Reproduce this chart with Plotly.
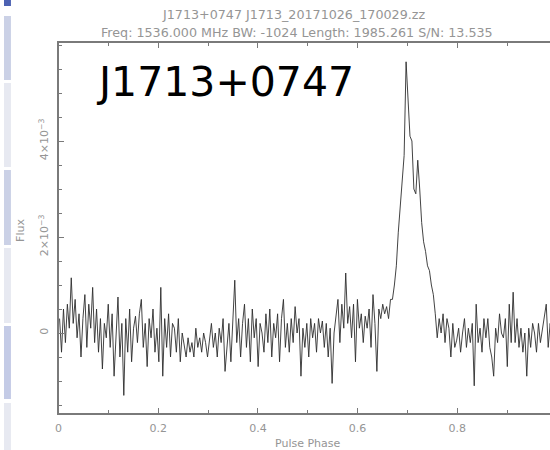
import numpy as np
import plotly.graph_objects as go

# Integrated pulse profile of PSR J1713+0747, 256 phase bins.
# Flux values are in units of 1e-3 (axis ticks are labelled accordingly).
n_bins = 256
flux_e3 = [
    0.3, -0.4, 0.5, -0.2, 0.6, 0.1, 1.15, 0.2, 0.7, -0.1, 0.4, -0.5, 0.3, 0.8, -0.3, 0.6,
    0.1, 0.95, -0.2, 0.5, -0.4, 0.3, -0.75, 0.2, -0.1, 0.6, -0.3, 0.4, -0.9, 0.1, 0.75, -0.5,
    0.2, -1.3, 0.3, -0.4, 0.5, -0.6, 0.1, 0.35, -0.2, 0.4, 0.7, -0.3, 0.2, -0.7, 0.3, -0.1,
    0.5, -0.4, 0.1, -0.6, 0.95, -0.9, 0.3, -0.3, 0.4, -0.5, 0.2, 0.1, -0.4, 0.3, -0.6, 0.0,
    -0.3, -0.5, -0.1, -0.4, -0.2, -0.5, 0.1, -0.3, -0.1, -0.4, 0.0, -0.2, -0.5, -0.1, 0.2, -0.3,
    0.0, -0.5, 0.1, -0.2, 0.3, -0.8, -0.3, 0.2, -0.6, 0.4, 1.1, -0.2, 0.3, -0.5, 0.2, 0.6,
    -0.3, 0.3, -0.6, 0.5, -0.1, 0.3, -0.7, 0.2, 0.0, -0.4, 0.4, -0.2, 0.5, -0.5, 0.2, -0.1,
    0.4, -0.6, 0.3, 0.7, -0.3, 0.2, -0.4, 0.3, -0.2, 0.55, 0.0, 0.3, -0.9, 0.1, -0.3, 0.2,
    -0.5, 0.3, -0.1, 0.2, -0.4, 0.3, 0.0, 0.25, -0.3, 0.2, -0.5, 0.1, -1.05, 0.0, 0.4, 0.7,
    -0.2, 0.6, 0.1, 1.25, 0.2, 0.55, -0.1, 0.6, -0.6, 0.7, 0.1, 0.4, -0.2, 0.35, 0.1, 0.5,
    -0.3, 0.8, 0.2, -0.8, 0.5, 0.3, 0.6, 0.4, 0.55, 0.3, 0.7, 0.7, 1.0, 1.4, 2.1, 2.6,
    3.2, 3.7, 5.65, 5.0, 4.1, 4.0, 3.0, 2.9, 3.6, 3.0, 2.3, 1.9, 1.7, 1.4, 1.3, 1.0,
    0.8, 0.4, -0.1, 0.3, 0.0, 0.4, -0.2, 0.3, 0.1, -0.5, 0.2, -0.3, -0.15, 0.1, -0.4, 0.0,
    0.3, -0.3, 0.1, -0.2, 0.2, -1.1, 0.6, -0.2, 0.1, -0.4, 0.3, -0.1, 0.3, -0.3, -0.5, -0.9,
    0.1, -0.2, 0.4, 0.0, -0.1, 0.3, -0.7, 0.6, -0.2, 0.85, -0.2, 0.3, -0.3, 0.1, -0.4, 0.0,
    -0.9, 0.1, -0.3, 0.2, 0.0, -0.4, 0.2, -0.2, 0.1, 0.3, 0.6, -0.3, 0.2, -0.1, 0.1, 0.0,
]
phase = (np.arange(n_bins) + 0.5) / n_bins

title_lines = [
    "J1713+0747 J1713_20171026_170029.zz",
    "Freq: 1536.000 MHz BW: -1024 Length: 1985.261 S/N: 13.535",
]
x_tickvals = [0, 0.2, 0.4, 0.6, 0.8]
x_ticktext = ["0", "0.2", "0.4", "0.6", "0.8"]
y_tickvals = [0, 2, 4]
y_ticktext = ["0", "2×10<sup>−3</sup>", "4×10<sup>−3</sup>"]
source_name = "J1713+0747"

W, H = 550, 450
AX = "#7a7a7a"
TXT = "#959595"
SMALL = "DejaVu Sans, Verdana, sans-serif"

fig = go.Figure()
fig.add_trace(go.Scatter(
    x=phase, y=flux_e3, mode="lines",
    line=dict(color="#2e2e2e", width=0.9),
    hoverinfo="skip", showlegend=False,
))

def px(x):
    return x / W

def py(y):
    return 1 - y / H

left, right, top, bottom = 55, 550, 43, 413
x_span = (right - left) / 502.0

fig.update_layout(
    width=W, height=H,
    margin=dict(l=0, r=0, t=0, b=0),
    paper_bgcolor="white", plot_bgcolor="white",
    font=dict(family=SMALL, size=11, color=TXT),
    xaxis=dict(
        domain=[px(left), 1.0], range=[0, x_span],
        showgrid=False, zeroline=False,
        showline=True, linecolor=AX, linewidth=2, mirror="ticks",
        ticks="inside", ticklen=5, tickcolor=AX, tickwidth=1,
        tickvals=x_tickvals, ticktext=x_ticktext,
        tickfont=dict(size=11, color=TXT), ticklabelstandoff=4,
        minor=dict(dtick=0.1, ticks="inside", ticklen=3, tickcolor=AX),
    ),
    yaxis=dict(
        domain=[py(bottom), py(top)], range=[-(bottom - 333) / 48, (333 - top) / 48],
        showgrid=False, zeroline=False,
        showline=True, linecolor=AX, linewidth=2, mirror=False,
        ticks="inside", ticklen=5, tickcolor=AX, tickwidth=1,
        tickvals=y_tickvals, ticktext=y_ticktext, tickangle=-90,
        tickfont=dict(size=11, color=TXT), ticklabelstandoff=4,
        minor=dict(dtick=0.5, ticks="inside", ticklen=3, tickcolor=AX),
    ),
)

# Sidebar strip along the left edge
strip = [
    (0, 6, "#4d62b3"), (16, 80, "#cbd1e6"), (83, 167, "#e7e9f1"),
    (170, 245, "#cbd1e6"), (248, 323, "#e7e9f1"), (326, 399, "#c4cbe6"),
    (403, 450, "#e7e9f1"),
]
for y0, y1, c in strip:
    fig.add_shape(type="rect", xref="paper", yref="paper",
                  x0=0, x1=px(7), y0=py(y1), y1=py(y0),
                  fillcolor=c, line=dict(width=0), layer="below")

# Header lines
for line, yc, xc in zip(title_lines, [15, 32], [292, 295]):
    fig.add_annotation(text=line, xref="paper", yref="paper",
                       x=px(xc), y=py(yc), xanchor="center", yanchor="middle",
                       showarrow=False, font=dict(family=SMALL, size=12.7, color=TXT))

# Axis titles
fig.add_annotation(text="Pulse Phase", xref="paper", yref="paper",
                   x=px(306), y=py(443), xanchor="center", yanchor="middle",
                   showarrow=False, font=dict(family=SMALL, size=11, color=TXT))
fig.add_annotation(text="Flux", xref="paper", yref="paper",
                   x=px(17), y=py(230), xanchor="center", yanchor="middle",
                   textangle=-90, showarrow=False, font=dict(family=SMALL, size=11, color=TXT))

# Source name
fig.add_annotation(text=source_name, xref="paper", yref="paper",
                   x=px(91), y=py(82), xanchor="left", yanchor="middle",
                   showarrow=False,
                   font=dict(family="DejaVu Sans, Verdana, sans-serif", size=41, color="black"))

fig.write_html("out.html")
